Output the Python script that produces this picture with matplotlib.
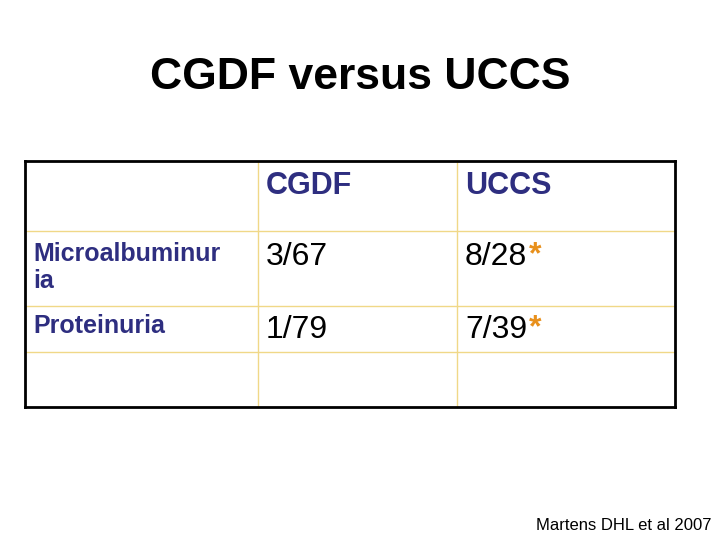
import matplotlib.pyplot as plt
from matplotlib.lines import Line2D

col_headers = ["CGDF", "UCCS"]
row_labels = ["Microalbuminur\nia", "Proteinuria"]
cgdf_vals = ["3/67", "1/79"]
uccs_vals = ["8/28", "7/39"]
uccs_star = [True, True]

NAVY = "#2e2e80"
GRID = "#f0d888"
FONT = "Liberation Sans"

fig = plt.figure(figsize=(7.2, 5.4), dpi=100)
W, H = 720, 540


def fx(x):
    return x / W


def fy(y):
    return 1 - y / H


def hline(y, x0, x1, color, lw):
    fig.add_artist(Line2D([fx(x0), fx(x1)], [fy(y), fy(y)], color=color, lw=lw))


def vline(x, y0, y1, color, lw):
    fig.add_artist(Line2D([fx(x), fx(x)], [fy(y0), fy(y1)], color=color, lw=lw))


fig.text(fx(360), fy(78), "CGDF versus UCCS", ha="center", va="center",
         fontsize=32, family=FONT, weight="bold", color="black")

# grid
left, right, top, bottom = 25, 675, 161, 407
cols = [258, 457]
rows = [231, 306, 352]
for y in rows:
    hline(y, left, right, GRID, 1)
for x in cols:
    vline(x, top, bottom, GRID, 1)
hline(top, left, right, "black", 2)
hline(bottom, left, right, "black", 2)
vline(left, top, bottom, "black", 2)
vline(right, top, bottom, "black", 2)

fig.text(fx(266), fy(186), col_headers[0], ha="left", va="center",
         fontsize=22, family=FONT, weight="bold", color=NAVY)
fig.text(fx(465), fy(186), col_headers[1], ha="left", va="center",
         fontsize=22, family=FONT, weight="bold", color=NAVY)

label_y = [255, 327]
val_y = [257, 330]
for i in range(2):
    fig.text(fx(33), fy(label_y[i] - 13), row_labels[i], ha="left", va="top",
             fontsize=18, family=FONT, weight="bold", color=NAVY,
             linespacing=1.15)
    fig.text(fx(266), fy(val_y[i]), cgdf_vals[i], ha="left", va="center",
             fontsize=23, family=FONT, color="black")
    fig.text(fx(465), fy(val_y[i]), uccs_vals[i], ha="left", va="center",
             fontsize=23, family=FONT, color="black")
    if uccs_star[i]:
        fig.text(fx(529), fy(val_y[i] - 2), "*", ha="left", va="center",
                 fontsize=23, family=FONT, weight="bold", color="#e8901c")

fig.text(fx(712), fy(525), "Martens DHL et al 2007", ha="right", va="center",
         fontsize=12, family=FONT, color="black")

fig.savefig("out.png", dpi=100)
